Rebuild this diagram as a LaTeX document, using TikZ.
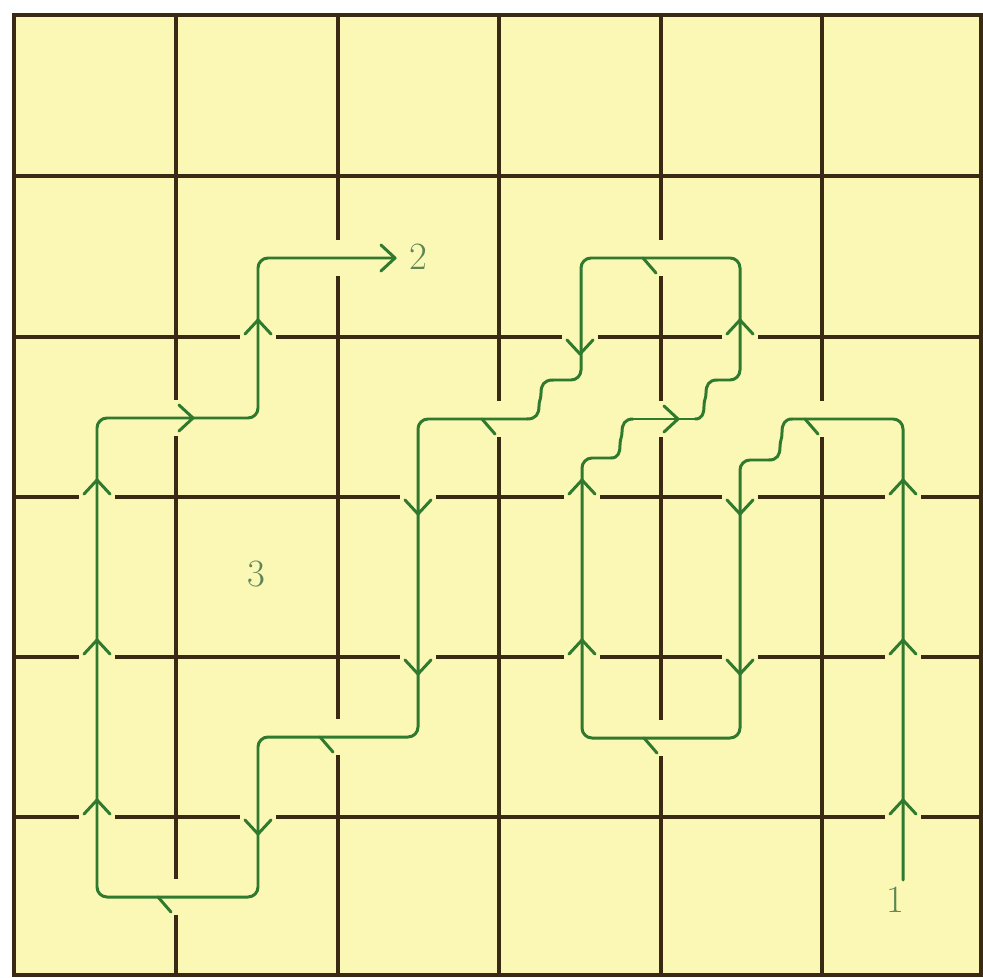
\documentclass[tikz,border=0pt]{standalone}
\definecolor{bgyellow}{HTML}{FBF7B4}
\definecolor{gridbrown}{HTML}{3A2A14}
\definecolor{pathgreen}{HTML}{2F7A2F}
\definecolor{labelgreen}{HTML}{5E8556}
\tikzset{
  gridline/.style={draw=gridbrown,line width=1.85pt,line cap=rect},
  gapfill/.style={fill=bgyellow,draw=none},
  route/.style={draw=pathgreen,line width=1.7pt,line cap=round,line join=round},
  bent/.style={route,rounded corners=2mm},
  lbl/.style={text=labelgreen,font=\fontsize{22}{22}\selectfont,inner sep=0pt},
  arrR/.pic={\draw[route] (-14,-13) -- (0,0) -- (-14,13);},
  arrU/.pic={\draw[route] (-13,14) -- (0,0) -- (13,14);},
  arrD/.pic={\draw[route] (-13,-14) -- (0,0) -- (13,-14);},
  halfL/.pic={\draw[route] (0,0) -- (13,15);}
}
\begin{document}
\begin{tikzpicture}[x=0.2mm,y=-0.2mm]
\useasboundingbox (0,0) rectangle (983,977);
\fill[white] (0,0) rectangle (983,977);
\fill[bgyellow] (14,15) rectangle (983,977);
% grid
\foreach \x in {14,176,338,499,661,822,981}
  \draw[gridline] (\x,15) -- (\x,975);
\foreach \y in {15,176,337,497,657,817,975}
  \draw[gridline] (14,\y) -- (981,\y);
% gaps in horizontal lines
\foreach \x/\y in {903/817,903/657,903/497,740/497,740/657,582/657,582/497,740/337,580/337,418/497,418/657,258/817,97/817,97/657,97/497,258/337}
  \fill[gapfill] ({\x-18},{\y-5}) rectangle ({\x+18},{\y+5});
% gaps in vertical lines
\foreach \x/\y in {822/419,661/738,661/419,661/258,499/419,338/737,176/897,176/418,338/258}
  \fill[gapfill] ({\x-5},{\y-18}) rectangle ({\x+5},{\y+18});
% route junction points
\coordinate (start) at (903,880);
\coordinate (finish) at (395,258);
\coordinate (w3a) at (792,419);
\coordinate (w3b) at (769,460);
\coordinate (w2a) at (611,458);
\coordinate (w2b) at (633,419);
\coordinate (w2c) at (695,419);
\coordinate (w2d) at (717,380);
\coordinate (w1a) at (553,380);
\coordinate (w1b) at (527,419);
% straight runs
\draw[bent] (start) -- (903,419) -- (w3a);
\draw[bent] (w3b) -- (740,460) -- (740,738) -- (582,738) -- (582,458) -- (w2a);
\draw[route] (w2b) -- (w2c);
\draw[bent] (w2d) -- (740,380) -- (740,258) -- (581,258) -- (581,380) -- (w1a);
\draw[bent] (w1b) -- (418,419) -- (418,737) -- (258,737) -- (258,897) -- (97,897)
  -- (97,418) -- (258,418) -- (258,258) -- (finish);
% wavy steps
\draw[route] (w3a)
  .. controls (785,419) and (782,424) .. (782,432)
  .. controls (782,440) and (780,440) .. (780,447)
  .. controls (780,455) and (777,460) .. (w3b);
\draw[route] (w2a)
  .. controls (618,458) and (620,453) .. (620,445)
  .. controls (620,438) and (622,438) .. (622,432)
  .. controls (622,424) and (625,419) .. (w2b);
\draw[route] (w2c)
  .. controls (702,419) and (704,414) .. (704,406)
  .. controls (704,399) and (706,399) .. (706,393)
  .. controls (706,385) and (709,380) .. (w2d);
\draw[route] (w1a)
  .. controls (544,380) and (541,385) .. (541,393)
  .. controls (541,400) and (539,400) .. (539,406)
  .. controls (539,414) and (536,419) .. (w1b);
% arrowheads
\pic at (finish) {arrR};
\foreach \x/\y in {193/418,678/419} \pic at (\x,\y) {arrR};
\foreach \x/\y in {903/800,903/640,903/480,582/640,582/480,740/320,97/800,97/640,97/480,258/320}
  \pic at (\x,\y) {arrU};
\foreach \x/\y in {740/514,740/674,580/354,418/514,418/674,258/834}
  \pic at (\x,\y) {arrD};
\foreach \x/\y in {643/258,482/419,805/419,644/738,320/737,158/897}
  \pic at (\x,\y) {halfL};
% labels
\node[lbl] (lab1) at (895,900) {1};
\node[lbl] (lab2) at (418,257) {2};
\node[lbl] (lab3) at (256,574) {3};
\end{tikzpicture}
\end{document}
